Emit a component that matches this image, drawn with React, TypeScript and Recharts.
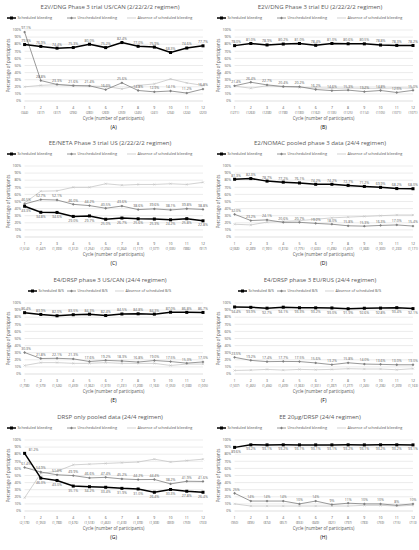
import { LineChart, Line, XAxis, YAxis, CartesianGrid, LabelList } from "recharts";

const FONT = "'Open Sans', 'Noto Sans', sans-serif";
const TXT = "#595959";

const cycles = [1, 2, 3, 4, 5, 6, 7, 8, 9, 10, 11, 12];
const yTicks = [0, 10, 20, 30, 40, 50, 60, 70, 80, 90, 100];

// (A) E2V/DNG US/CAN
const aCounts = ["344", "317", "317", "296", "280", "269", "259", "245", "241", "234", "224", "220"];
const aScheduled = [79.5, 76.9, 74.4, 75.3, 80.0, 75.2, 82.4, 77.0, 75.9, 68.3, 74.6, 77.7];
const aUnscheduled = [97.1, 28.8, 23.3, 21.6, 21.4, 16.0, 25.6, 14.8, 12.9, 14.1, 11.2, 16.8];
const aAbsence = [20.0, 22.0, 23.0, 22.0, 21.0, 20.5, 17.0, 22.0, 24.0, 31.0, 25.5, 22.0];

// (B) E2V/DNG EU
const bCounts = ["1271", "1263", "1238", "1198", "1180", "1162", "1135", "1125", "1114", "1105", "1071", "1071"];
const bScheduled = [78.0, 81.0, 78.9, 80.2, 81.0, 78.4, 81.0, 80.6, 80.5, 78.8, 78.3, 78.2];
const bUnscheduled = [21.4, 26.4, 22.7, 20.4, 20.2, 16.2, 14.6, 15.3, 13.2, 14.8, 12.0, 15.0];
const bAbsence = [21.0, 18.0, 21.5, 20.0, 19.0, 18.5, 18.0, 18.2, 18.0, 17.8, 18.5, 18.0];

// (C) EE/NETA US
const cCounts = ["1,514", "1,447", "1,393", "1,312", "1,254", "1,294", "1,264", "1,117", "1,077", "1,035", "986", "917"];
const cScheduled = [43.3, 34.8, 34.6, 29.0, 29.7, 25.0, 26.7, 25.6, 25.3, 24.2, 25.8, 22.8];
const cUnscheduled = [46.5, 52.7, 52.1, 46.0, 44.2, 40.5, 43.6, 38.6, 39.6, 38.1, 39.8, 38.8];
const cAbsence = [48.0, 64.5, 65.0, 70.0, 70.0, 75.0, 73.0, 74.0, 74.0, 75.0, 74.0, 77.0];

// (D) E2/NOMAC pooled
const dCounts = ["2,068", "2,289", "1,991", "1,874", "1,775", "1,633", "1,496", "1,457", "1,368", "1,300", "1,233", "1,171"];
const dScheduled = [81.3, 82.3, 78.7, 77.2, 76.1, 74.2, 74.2, 72.7, 71.2, 69.9, 68.2, 68.0];
const dUnscheduled = [32.0, 23.2, 24.1, 20.6, 20.7, 19.2, 18.0, 15.8, 15.3, 16.3, 17.0, 15.4];
const dAbsence = [18.0, 17.0, 21.0, 22.0, 23.0, 25.0, 27.0, 28.0, 29.0, 30.0, 31.0, 31.0];

// (E) E4/DRSP US/CAN
const eCounts = ["1,798", "1,579", "1,526", "1,459", "1,362", "1,319", "1,231", "1,208", "1,163", "1,053", "1,038", "1,005"];
const eScheduled = [86.4, 83.9, 82.0, 83.5, 84.3, 82.4, 84.5, 84.8, 84.3, 87.0, 86.8, 86.7];
const eUnscheduled = [30.3, 21.8, 22.1, 21.3, 17.6, 19.2, 18.3, 16.8, 19.0, 17.5, 15.3, 17.0];
const eAbsence = [12.0, 16.0, 16.0, 15.0, 15.0, 16.0, 15.0, 15.0, 15.0, 12.0, 14.0, 14.0];

// (F) E4/DRSP EU/RUS
const fCounts = ["1,507", "1,465", "1,456", "1,409", "1,363", "1,331", "1,287", "1,277", "1,245", "1,236", "1,209", "1,163"];
const fScheduled = [94.4, 93.9, 92.7, 94.1, 93.3, 93.2, 93.0, 91.9, 92.6, 92.8, 93.4, 92.1];
const fUnscheduled = [23.5, 19.2, 17.4, 17.7, 17.5, 15.6, 13.2, 15.8, 14.0, 13.6, 13.0, 13.0];
const fAbsence = [5.0, 5.5, 6.5, 5.5, 6.5, 6.0, 6.5, 7.5, 7.0, 7.0, 6.0, 7.5];

// (G) DRSP only pooled
const gCounts = ["2,178", "1,953", "1,788", "1,676", "1,518", "1,463", "1,418", "1,378", "1,308", "859", "759", "733"];
const gScheduled = [81.2, 46.3, 43.0, 35.1, 34.2, 33.4, 31.9, 31.0, 26.4, 30.3, 27.8, 26.4];
const gUnscheduled = [61.4, 54.9, 51.0, 49.9, 46.6, 47.4, 45.2, 44.2, 44.4, 38.2, 41.9, 41.6];
const gAbsence = [18.6, 53.0, 56.0, 65.0, 66.0, 67.0, 68.0, 69.0, 73.0, 69.0, 71.0, 73.0];

// (H) EE 20µg/DRSP
const hCounts = ["950", "895", "874", "857", "853", "849", "821", "797", "783", "759", "715", "713"];
const hScheduled = [89.6, 93.2, 93.1, 93.2, 93.1, 93.1, 93.1, 93.2, 93.1, 93.2, 93.2, 93.1];
const hUnscheduled = [25, 14, 14, 14, 10, 14, 9, 11, 10, 10, 8, 10];
const hAbsence = [10.0, 7.0, 7.0, 7.0, 7.0, 7.0, 7.0, 7.0, 8.0, 8.0, 7.0, 8.0];

const legendBleeding = ["Scheduled bleeding", "Unscheduled bleeding", "Absence of scheduled bleeding"];
const legendBS = ["Scheduled B/S", "Unscheduled B/S", "Absence of scheduled B/S"];

const panels = [
  { id: "A", left: 0, top: 0, title: "E2V/DNG Phase 3 trial US/CAN (2/22/2/2 regimen)", counts: aCounts, s: aScheduled, u: aUnscheduled, n: aAbsence, names: legendBleeding, lx: [7, 67, 127], sPos: "top", uPos: "top", dec: 1 },
  { id: "B", left: 210, top: 0, title: "E2V/DNG Phase 3 trial EU (2/22/2/2 regimen)", counts: bCounts, s: bScheduled, u: bUnscheduled, n: bAbsence, names: legendBleeding, lx: [7, 67, 127], sPos: "top", uPos: "top", dec: 1 },
  { id: "C", left: 0, top: 136, title: "EE/NETA Phase 3 trial US (2/22/2/2 regimen)", counts: cCounts, s: cScheduled, u: cUnscheduled, n: cAbsence, names: legendBleeding, lx: [7, 67, 127], sPos: "bottom", uPos: "top", dec: 1 },
  { id: "D", left: 210, top: 136, title: "E2/NOMAC pooled phase 3 data (24/4 regimen)", counts: dCounts, s: dScheduled, u: dUnscheduled, n: dAbsence, names: legendBleeding, lx: [7, 67, 127], sPos: "top", uPos: "top", dec: 1 },
  { id: "E", left: 0, top: 273, title: "E4/DRSP phase 3 US/CAN (24/4 regimen)", counts: eCounts, s: eScheduled, u: eUnscheduled, n: eAbsence, names: legendBS, lx: [28, 67, 115], sPos: "top", uPos: "top", dec: 1 },
  { id: "F", left: 210, top: 273, title: "E4/DRSP phase 3 EU/RUS (24/4 regimen)", counts: fCounts, s: fScheduled, u: fUnscheduled, n: fAbsence, names: legendBS, lx: [28, 67, 115], sPos: "bottom", uPos: "top", dec: 1 },
  { id: "G", left: 0, top: 410, title: "DRSP only pooled data (24/4 regimen)", counts: gCounts, s: gScheduled, u: gUnscheduled, n: gAbsence, names: legendBleeding, lx: [7, 67, 127], sPos: "bottom", uPos: "top", dec: 1 },
  { id: "H", left: 210, top: 410, title: "EE 20µg/DRSP (24/4 regimen)", counts: hCounts, s: hScheduled, u: hUnscheduled, n: hAbsence, names: legendBleeding, lx: [7, 67, 127], sPos: "bottom", uPos: "top", dec: 0 },
];

const W = 209;
const H = 137;

const squareDot = (p: any) =>
  p.cx == null ? null : <rect key={"s" + p.index} x={p.cx - 1.5} y={p.cy - 1.5} width={3} height={3} fill="#000" />;
const diamondDot = (p: any) =>
  p.cx == null ? null : (
    <path key={"u" + p.index} d={`M${p.cx},${p.cy - 1.4}L${p.cx + 1.4},${p.cy}L${p.cx},${p.cy + 1.4}L${p.cx - 1.4},${p.cy}Z`} fill="#7f7f7f" />
  );
const crossDot = (p: any) =>
  p.cx == null ? null : (
    <path key={"n" + p.index} d={`M${p.cx - 1.1},${p.cy - 1.1}L${p.cx + 1.1},${p.cy + 1.1}M${p.cx - 1.1},${p.cy + 1.1}L${p.cx + 1.1},${p.cy - 1.1}`} stroke="#bfbfbf" strokeWidth={0.5} />
  );

const makeLabel = (pos: string, dec: number, panelId: string, series: string) => (p: any) => {
  const { x, y, value, index } = p;
  let dx = index === 0 ? 1.5 : 0;
  let dy = pos === "top" ? -2.6 : 5.6;
  if (panelId === "G" && series === "s" && index === 0) {
    dx = 9;
    dy = -2;
  }
  return (
    <text key={series + index} x={x + dx} y={y + dy} fontSize={3.5} fill={TXT} textAnchor="middle" fontFamily={FONT}>
      {Number(value).toFixed(dec)}%
    </text>
  );
};

const CycleTick = (props: any) => {
  const { x, y, payload, index, counts } = props;
  return (
    <g>
      <text x={x} y={y + 3.5} textAnchor="middle" fontSize={3.5} fill={TXT} fontFamily={FONT}>
        {payload.value}
      </text>
      <text x={x} y={y + 8.5} textAnchor="middle" fontSize={3.1} fill={TXT} fontFamily={FONT}>
        ({counts[index]})
      </text>
    </g>
  );
};

function Panel({ cfg }: { cfg: any }) {
  const data = cycles.map((c, i) => ({ cycle: c, scheduled: cfg.s[i], unscheduled: cfg.u[i], absence: cfg.n[i] }));
  return (
    <div style={{ position: "absolute", left: cfg.left, top: cfg.top, width: W, height: H }}>
      <LineChart width={W} height={H} data={data} margin={{ top: 30, right: 6, bottom: 14, left: 10 }}>
        <CartesianGrid vertical={false} stroke="#d9d9d9" strokeWidth={0.5} />
        <XAxis
          dataKey="cycle"
          height={22}
          interval={0}
          tickLine={false}
          tickSize={4}
          tickMargin={0}
          axisLine={{ stroke: "#d9d9d9", strokeWidth: 0.5 }}
          tick={(p: any) => <CycleTick {...p} counts={cfg.counts} />}
        />
        <YAxis
          type="number"
          width={14.6}
          domain={[0, 100]}
          ticks={yTicks}
          interval={0}
          tickFormatter={(v: number) => v + "%"}
          tick={{ fontSize: 3.4, fill: TXT, fontFamily: FONT }}
          axisLine={false}
          tickLine={false}
          tickSize={2}
          tickMargin={1.5}
        />
        <Line dataKey="absence" stroke="#bfbfbf" strokeWidth={0.7} dot={crossDot} isAnimationActive={false} />
        <Line dataKey="unscheduled" stroke="#7f7f7f" strokeWidth={0.8} dot={diamondDot} isAnimationActive={false}>
          <LabelList dataKey="unscheduled" content={makeLabel(cfg.uPos, cfg.dec, cfg.id, "u")} />
        </Line>
        <Line dataKey="scheduled" stroke="#000" strokeWidth={1.5} dot={squareDot} isAnimationActive={false}>
          <LabelList dataKey="scheduled" content={makeLabel(cfg.sPos, 1, cfg.id, "s")} />
        </Line>
      </LineChart>
      <svg width={W} height={H} style={{ position: "absolute", left: 0, top: 0, pointerEvents: "none" }} fontFamily={FONT}>
        <text x={110} y={8.5} textAnchor="middle" fontSize={6} fill={TXT}>
          {cfg.title}
        </text>
        {cfg.names.map((name: string, i: number) => {
          const x0 = cfg.lx[i];
          const y0 = 18;
          return (
            <g key={name}>
              {i === 0 && <line x1={x0} x2={x0 + 9} y1={y0} y2={y0} stroke="#000" strokeWidth={1.5} />}
              {i === 0 && <rect x={x0 + 3} y={y0 - 1.5} width={3} height={3} fill="#000" />}
              {i === 1 && <line x1={x0} x2={x0 + 9} y1={y0} y2={y0} stroke="#7f7f7f" strokeWidth={0.8} />}
              {i === 1 && <path d={`M${x0 + 4.5},${y0 - 1.4}L${x0 + 5.9},${y0}L${x0 + 4.5},${y0 + 1.4}L${x0 + 3.1},${y0}Z`} fill="#7f7f7f" />}
              {i === 2 && <line x1={x0} x2={x0 + 9} y1={y0} y2={y0} stroke="#bfbfbf" strokeWidth={0.7} />}
              <text x={x0 + 10.5} y={y0 + 1.3} fontSize={3.8} fill={TXT}>
                {name}
              </text>
            </g>
          );
        })}
        <text transform="rotate(-90)" x={-65.5} y={9.5} textAnchor="middle" fontSize={4.4} fill={TXT}>
          Percentage of participants
        </text>
        <text x={113.6} y={119.5} textAnchor="middle" fontSize={4.4} fill={TXT}>
          Cycle (number of participants)
        </text>
        <text x={113.6} y={129} textAnchor="middle" fontSize={5} fill="#000">
          ({cfg.id})
        </text>
      </svg>
    </div>
  );
}

export default function App() {
  return (
    <div style={{ position: "absolute", left: 0, top: 0, width: 419, height: 550, background: "#fff" }}>
      {panels.map((p) => (
        <Panel key={p.id} cfg={p} />
      ))}
    </div>
  );
}
